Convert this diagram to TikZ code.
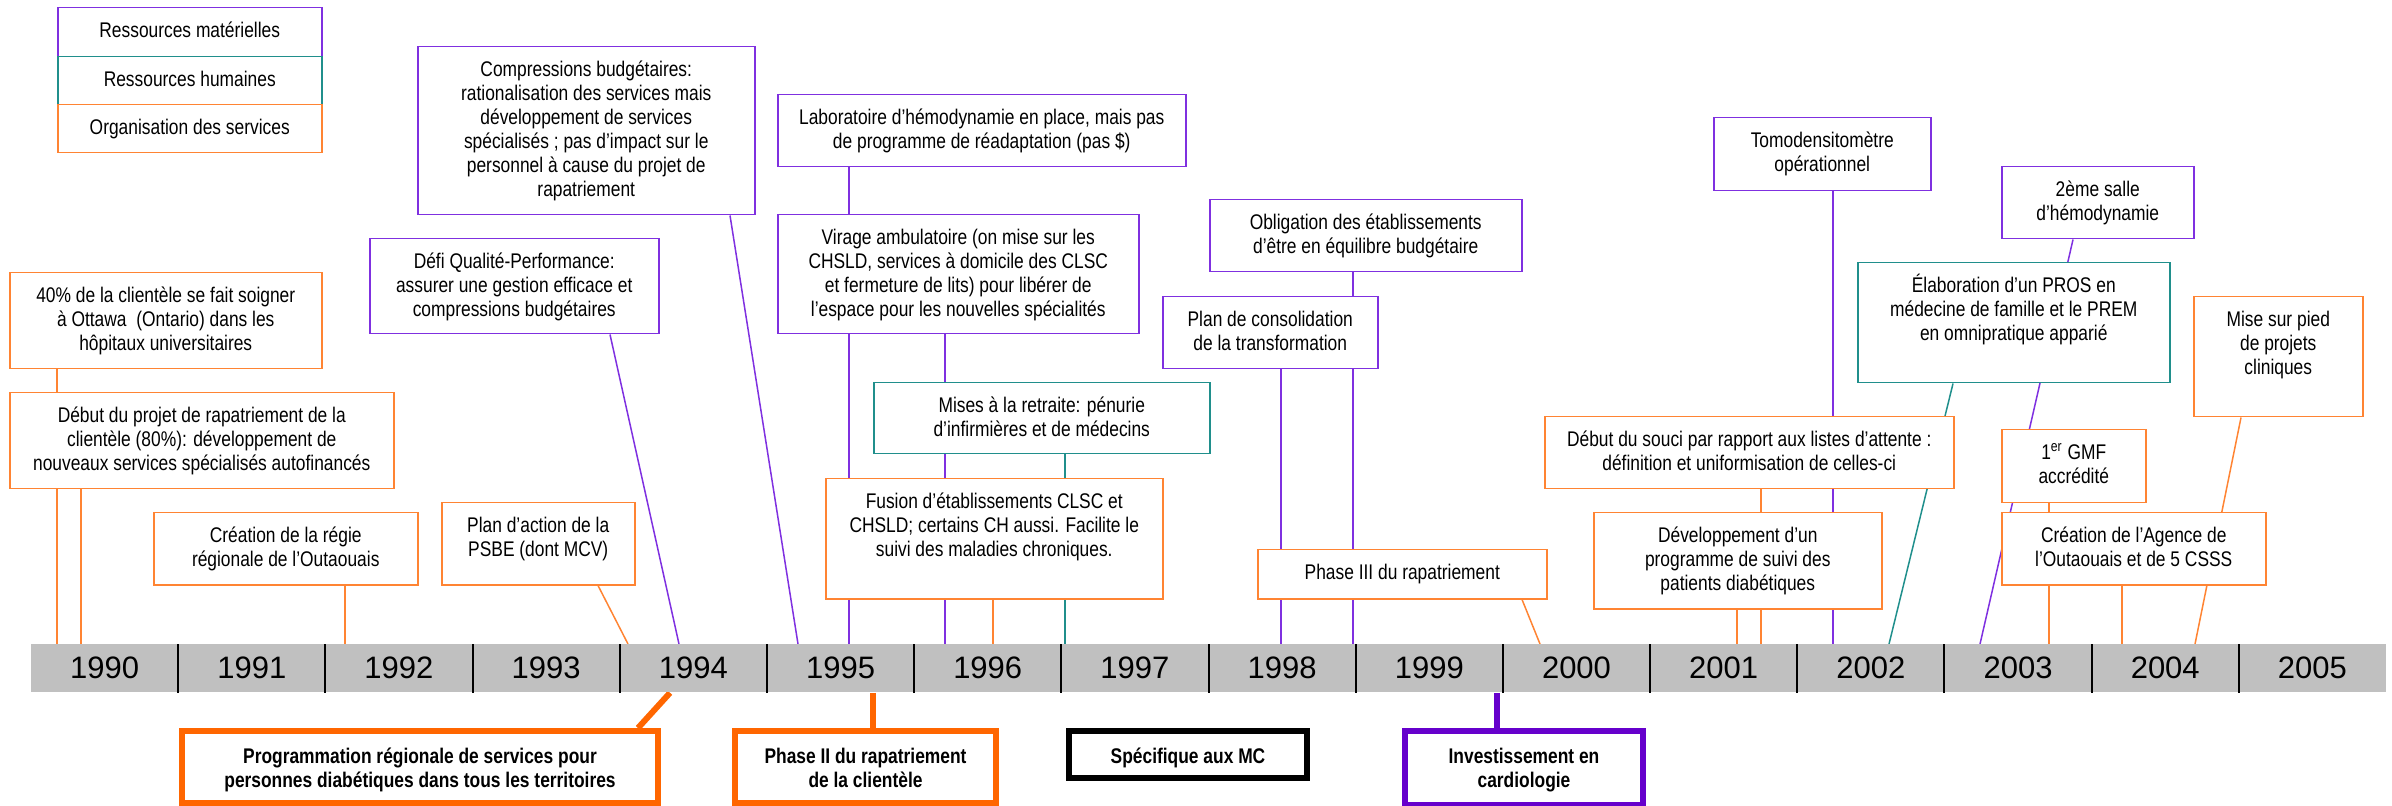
\documentclass[tikz,border=0pt]{standalone}
\usepackage{fontspec}
\setmainfont{Liberation Sans}
\newfontfamily\narrowfont[FakeStretch=0.82]{Liberation Sans}
\usetikzlibrary{calc}

\definecolor{mpurple}{HTML}{7F30E0}
\definecolor{mteal}{HTML}{208F8C}
\definecolor{morange}{HTML}{FF8433}
\definecolor{dorange}{HTML}{FF6600}
\definecolor{dpurple}{HTML}{6600CC}
\definecolor{bargray}{HTML}{C0C0C0}

\pgfdeclarelayer{background}
\pgfsetlayers{background,main}

% event box: [first baseline]{style}{name}{left}{top}{right}{bottom}{text}, in px
\newcommand\evbox[8][15pt]{%
  \node[#2, anchor=north west, inner sep=0pt] (#3) at (#4,#5)
    {\parbox[c][\dimexpr#7pt/2-#5pt/2\relax][t]{\dimexpr#6pt/2-#4pt/2\relax}{\centering\rule{0pt}{#1}#8\par}};}

\tikzset{
  box/.style={fill=white, line width=0.75pt, text=black,
    font=\narrowfont\fontsize{10.6pt}{12pt}\selectfont},
  pbox/.style={box, draw=mpurple},
  tbox/.style={box, draw=mteal},
  obox/.style={box, draw=morange},
  bigbox/.style={fill=white, line width=3pt, text=black,
    font=\narrowfont\bfseries\fontsize{10.6pt}{12pt}\selectfont},
  link/.style={line width=0.75pt},
  plink/.style={link, draw=mpurple},
  tlink/.style={link, draw=mteal},
  olink/.style={link, draw=morange},
  biglink/.style={line width=3pt},
  yearlbl/.style={font=\fontsize{15.5pt}{18pt}\selectfont, text=black, inner sep=0pt},
  divider/.style={line width=1pt, draw=black}
}

\begin{document}
\begin{tikzpicture}[x=0.5pt,y=-0.5pt]
\useasboundingbox (0,0) rectangle (2392,806);

% time axis
\node[fill=bargray, inner sep=0pt, minimum width=1177.5pt, minimum height=24pt,
      anchor=north west] (bar) at (31,644) {};
\foreach \i in {0,...,15} {
  \pgfmathtruncatemacro\yr{1990+\i}
  \node[yearlbl] (yr\yr) at (31+147.1875*\i+73.6,668) {\yr};
}
\foreach \i in {1,...,15}
  \draw[divider] ($(bar.north west)+(147.1875*\i,0)$) -- ($(bar.south west)+(147.1875*\i,0)$);

% legend
\evbox{pbox}{keyA}{57}{7}{321}{56}{Ressources matérielles}
\evbox{tbox}{keyB}{57}{56}{321}{104}{Ressources humaines}
\evbox{obox}{keyC}{57}{104}{321}{152}{Organisation des services}

% events above the axis
\evbox{obox}{c40}{9}{272}{321}{368}{40\% de la clientèle se fait soigner\\ à Ottawa\ \ (Ontario) dans les\\ hôpitaux universitaires}
\evbox{obox}{debut}{9}{392}{393}{488}{Début du projet de rapatriement de la\\ clientèle (80\%): développement de\\ nouveaux services spécialisés autofinancés}
\evbox{obox}{regie}{153}{512}{417}{584}{Création de la régie\\ régionale de l’Outaouais}
\evbox{obox}{psbe}{441}{502}{634}{584}{Plan d’action de la\\ PSBE (dont MCV)}
\evbox{pbox}{defi}{369}{238}{658}{333}{Défi Qualité-Performance:\\ assurer une gestion efficace et\\ compressions budgétaires}
\evbox{pbox}{compr}{417}{46}{754}{214}{Compressions budgétaires:\\ rationalisation des services mais\\ développement de services\\ spécialisés ; pas d’impact sur le\\ personnel à cause du projet de\\ rapatriement}
\evbox{pbox}{labo}{777}{94}{1185}{166}{Laboratoire d’hémodynamie en place, mais pas\\ de programme de réadaptation (pas \$)}
\evbox{pbox}{virage}{777}{214}{1138}{333}{Virage ambulatoire (on mise sur les\\ CHSLD, services à domicile des CLSC\\ et fermeture de lits) pour libérer de\\ l’espace pour les nouvelles spécialités}
\evbox{tbox}{mises}{873}{382}{1209}{453}{Mises à la retraite: pénurie\\ d’infirmières et de médecins}
\evbox{obox}{fusion}{825}{478}{1162}{598}{Fusion d’établissements CLSC et\\ CHSLD; certains CH aussi. Facilite le\\ suivi des maladies chroniques.}
\evbox{pbox}{oblig}{1209}{199}{1521}{271}{Obligation des établissements\\ d’être en équilibre budgétaire}
\evbox{pbox}{plan}{1162}{296}{1377}{368}{Plan de consolidation\\ de la transformation}
\evbox{obox}{phaseIII}{1257}{549}{1546}{598}{Phase III du rapatriement}
\evbox{pbox}{tomo}{1713}{117}{1930}{190}{Tomodensitomètre\\ opérationnel}
\evbox{pbox}{salle}{2001}{166}{2193}{238}{2ème salle\\ d’hémodynamie}
\evbox{tbox}{pros}{1857}{262}{2169}{382}{Élaboration d’un PROS en\\ médecine de famille et le PREM\\ en omnipratique apparié}
\evbox{obox}{pied}{2193}{296}{2362}{416}{Mise sur pied\\ de projets\\ cliniques}
\evbox{obox}{souci}{1544}{416}{1953}{488}{Début du souci par rapport aux listes d’attente :\\ définition et uniformisation de celles-ci}
\evbox{obox}{suivi}{1593}{512}{1881}{608}{Développement d’un\\ programme de suivi des\\ patients diabétiques}
\evbox{obox}{gmf}{2001}{429}{2145}{502}{1\textsuperscript{er} GMF\\ accrédité}
\evbox{obox}{agence}{2001}{512}{2265}{584}{Création de l’Agence de\\ l’Outaouais et de 5 CSSS}

% themes below the axis
\evbox[16pt]{bigbox, draw=dorange}{prog}{179}{728}{655}{800}{Programmation régionale de services pour\\ personnes diabétiques dans tous les territoires}
\evbox[16pt]{bigbox, draw=dorange}{phaseII}{732}{728}{993}{800}{Phase II du rapatriement\\ de la clientèle}
\evbox[16pt]{bigbox, draw=black}{mc}{1066}{728}{1304}{775}{Spécifique aux MC}
\evbox[16pt]{bigbox, draw=dpurple}{cardio}{1402}{728}{1640}{802}{Investissement en\\ cardiologie}

% connectors, behind boxes and axis
\begin{pgfonlayer}{background}
\draw[olink] (c40.south -| 57,0) -- (bar.north -| 57,0);
\draw[olink] (debut.south -| 81,0) -- (bar.north -| 81,0);
\draw[olink] (regie.south -| 345,0) -- (bar.north -| 345,0);
\draw[olink] (psbe.south -| 598,0) -- (bar.north -| 628,0);
\draw[plink] (defi.south -| 610,0) -- (bar.north -| 679,0);
\draw[plink] (compr.south -| 730,0) -- (bar.north -| 798,0);
\draw[plink] (labo.south -| 849,0) -- (bar.north -| 849,0);
\draw[plink] (virage.south -| 945,0) -- (bar.north -| 945,0);
\draw[tlink] (mises.south -| 1065,0) -- (bar.north -| 1065,0);
\draw[olink] (fusion.south -| 993,0) -- (bar.north -| 993,0);
\draw[plink] (oblig.south -| 1353,0) -- (bar.north -| 1353,0);
\draw[plink] (plan.south -| 1281,0) -- (bar.north -| 1281,0);
\draw[olink] (phaseIII.south -| 1522,0) -- (bar.north -| 1540,0);
\draw[plink] (tomo.south -| 1833,0) -- (bar.north -| 1833,0);
\draw[plink] (salle.south -| 2073,0) -- (bar.north -| 1980,0);
\draw[tlink] (pros.south -| 1953,0) -- (bar.north -| 1889,0);
\draw[olink] (pied.south -| 2241,0) -- (bar.north -| 2195,0);
\draw[olink] (souci.south -| 1761,0) -- (bar.north -| 1761,0);
\draw[olink] (suivi.south -| 1737,0) -- (bar.north -| 1737,0);
\draw[olink] (gmf.south -| 2049,0) -- (bar.north -| 2049,0);
\draw[olink] (agence.south -| 2122,0) -- (bar.north -| 2122,0);
\draw[biglink, draw=dorange] (bar.south -| 670,0) -- (prog.north -| 638,0);
\draw[biglink, draw=dorange] (bar.south -| 873,0) -- (phaseII.north -| 873,0);
\draw[biglink, draw=dpurple] (bar.south -| 1497,0) -- (cardio.north -| 1497,0);
\end{pgfonlayer}
\end{tikzpicture}
\end{document}
